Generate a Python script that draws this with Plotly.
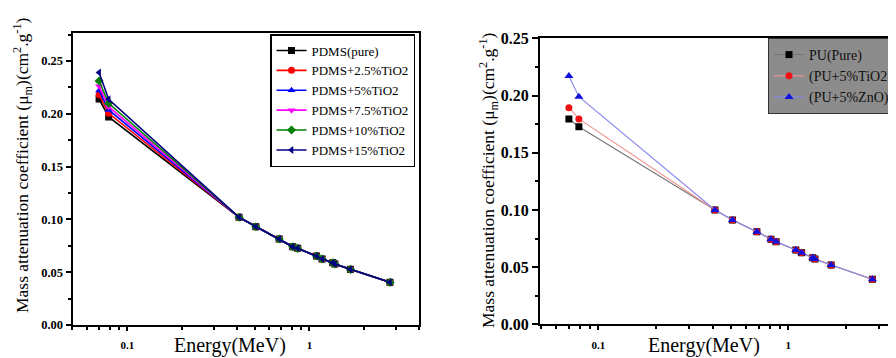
import plotly.graph_objects as go

# ---------------- data ----------------
energy = [0.07, 0.079, 0.411, 0.508, 0.683, 0.81, 0.862, 1.095, 1.175, 1.343, 1.38, 1.68, 2.77]

# Left panel (PDMS composites)
pdms_names = ["PDMS(pure)", "PDMS+2.5%TiO2", "PDMS+5%TiO2", "PDMS+7.5%TiO2", "PDMS+10%TiO2", "PDMS+15%TiO2"]
pdms_pure = [0.214, 0.197, 0.102, 0.0931, 0.0814, 0.0741, 0.0726, 0.0653, 0.0625, 0.059, 0.0578, 0.0527, 0.0404]
pdms_2_5 = [0.218, 0.2005, 0.102, 0.0931, 0.0814, 0.0741, 0.0726, 0.0653, 0.0625, 0.059, 0.0578, 0.0527, 0.0404]
pdms_5 = [0.222, 0.2036, 0.102, 0.0931, 0.0814, 0.0741, 0.0726, 0.0653, 0.0625, 0.059, 0.0578, 0.0527, 0.0404]
pdms_7_5 = [0.226, 0.2067, 0.102, 0.0931, 0.0814, 0.0741, 0.0726, 0.0653, 0.0625, 0.059, 0.0578, 0.0527, 0.0404]
pdms_10 = [0.231, 0.210, 0.102, 0.0931, 0.0814, 0.0741, 0.0726, 0.0653, 0.0625, 0.059, 0.0578, 0.0527, 0.0404]
pdms_15 = [0.239, 0.2137, 0.102, 0.0931, 0.0814, 0.0741, 0.0726, 0.0653, 0.0625, 0.059, 0.0578, 0.0527, 0.0404]

# Right panel (PU composites)
pu_names = ["PU(Pure)", "(PU+5%TiO2", "(PU+5%ZnO)"]
pu_pure = [0.1795, 0.1727, 0.0999, 0.0912, 0.0809, 0.0743, 0.0722, 0.0649, 0.0626, 0.0582, 0.0571, 0.0518, 0.0393]
pu_tio2 = [0.1893, 0.1795, 0.0999, 0.0912, 0.0809, 0.0743, 0.0722, 0.0649, 0.0626, 0.0582, 0.0571, 0.0518, 0.0393]
pu_zno = [0.217, 0.199, 0.0999, 0.0912, 0.0809, 0.0743, 0.0722, 0.0649, 0.0626, 0.0582, 0.0571, 0.0518, 0.0393]

x_tickvals = [0.1, 1]
x_ticktext = ["0.1", "1"]
x_minor_vals = [0.05, 0.06, 0.07, 0.08, 0.09, 0.2, 0.3, 0.4, 0.5, 0.6, 0.7, 0.8, 0.9, 2, 3, 4]
y_tickvals = [0.00, 0.05, 0.10, 0.15, 0.20, 0.25]
y_ticktext = ["0.00", "0.05", "0.10", "0.15", "0.20", "0.25"]

y_title = "Mass attenuation coefficient (\u03bc<sub>m</sub>)(cm<sup>2</sup>.g<sup>-1</sup>)"
x_title = "Energy(MeV)"

# ---------------- styles ----------------
FONT = "'Liberation Serif', 'Times New Roman', Times, serif"
W, H = 896, 358
OFF = 8  # page body margin offset of the rendered figure

left_series = [pdms_pure, pdms_2_5, pdms_5, pdms_7_5, pdms_10, pdms_15]
left_colors = ["#000000", "#ff0000", "#0000ff", "#ff00ff", "#008000", "#000080"]
left_symbols = ["square", "circle", "triangle-up", "triangle-down", "diamond", "triangle-left"]

right_series = [pu_pure, pu_tio2, pu_zno]
right_marker_colors = ["#000000", "#ee1111", "#1111dd"]
right_line_colors = ["#777777", "#f09090", "#8888ee"]
right_symbols = ["square", "circle", "triangle-up"]

fig = go.Figure()

for name, ys, c, s in zip(pdms_names, left_series, left_colors, left_symbols):
    fig.add_trace(go.Scatter(
        x=energy, y=ys, name=name, mode="lines+markers",
        line=dict(color=c, width=1.6),
        marker=dict(color=c, symbol=s, size=7),
        xaxis="x", yaxis="y", legend="legend",
    ))

for name, ys, mc, lc, s in zip(pu_names, right_series, right_marker_colors, right_line_colors, right_symbols):
    fig.add_trace(go.Scatter(
        x=energy, y=ys, name=name, mode="lines+markers",
        line=dict(color=lc, width=1.1),
        marker=dict(color=mc, symbol=s, size=8 if s == "triangle-up" else 7),
        xaxis="x2", yaxis="y2", legend="legend2",
    ))

def px_x(p):
    return (p - OFF) / W

def px_y(p):
    return 1 - (p - OFF) / H

axis_common = dict(
    showline=True, linecolor="black", linewidth=2,
    ticks="outside", tickcolor="black", tickwidth=1.5,
    showgrid=False, zeroline=False,
)

fig.update_layout(
    width=W, height=H,
    margin=dict(l=0, r=0, t=0, b=0),
    paper_bgcolor="white", plot_bgcolor="white",
    template="none",
    font=dict(family=FONT, color="black"),
    xaxis=dict(
        **axis_common, type="log", mirror=True,
        domain=[px_x(72.5), px_x(419)],
        range=[-1.301, 0.602],
        tickmode="array", tickvals=x_tickvals, ticktext=x_ticktext,
        ticklen=4, ticklabelstandoff=5,
        tickfont=dict(size=11, weight="bold", family=FONT),
        minor=dict(tickmode="array", tickvals=x_minor_vals, ticks="outside", ticklen=3, tickcolor="black"),
        anchor="y",
    ),
    yaxis=dict(
        **axis_common, mirror=True,
        domain=[px_y(325), px_y(33)],
        range=[0, 0.2765],
        tickmode="array", tickvals=y_tickvals, ticktext=y_ticktext,
        ticklen=5,
        tickfont=dict(size=12.5, weight="bold", family=FONT),
        minor=dict(dtick=0.025, ticks="outside", ticklen=3, tickcolor="black"),
        anchor="x",
    ),
    xaxis2=dict(
        **axis_common, type="log", mirror=True,
        domain=[px_x(540), 1.0],
        range=[-1.307, -1.307 + (896 + OFF - 540) / 190],
        tickmode="array", tickvals=x_tickvals, ticktext=x_ticktext,
        ticklen=4, ticklabelstandoff=5,
        tickfont=dict(size=11, weight="bold", family=FONT),
        minor=dict(tickmode="array", tickvals=x_minor_vals, ticks="outside", ticklen=3, tickcolor="black"),
        anchor="y2",
    ),
    yaxis2=dict(
        **axis_common, mirror=False,
        domain=[px_y(324.3), px_y(38.3)],
        range=[0, 0.25],
        tickmode="array", tickvals=y_tickvals, ticktext=y_ticktext,
        ticklen=6,
        tickfont=dict(size=16, weight="bold", family=FONT),
        minor=dict(dtick=0.025, ticks="outside", ticklen=3, tickcolor="black"),
        anchor="x2",
    ),
    legend=dict(
        x=px_x(270), y=px_y(34), xanchor="left", yanchor="top",
        bgcolor="white", bordercolor="black", borderwidth=1.5,
        font=dict(family=FONT, size=13, color="black"),
        tracegroupgap=0,
    ),
    legend2=dict(
        x=px_x(768), y=px_y(38), xanchor="left", yanchor="top",
        bgcolor="#8c8c8c", bordercolor="#333333", borderwidth=1,
        font=dict(family=FONT, size=14, color="#111111"),
        tracegroupgap=0,
    ),
    showlegend=True,
)

annotations = [
    dict(text=y_title, x=px_x(22), y=px_y(165), xref="paper", yref="paper",
         textangle=-90, showarrow=False, font=dict(family=FONT, size=17.5, color="black"),
         xanchor="center", yanchor="middle"),
    dict(text=y_title, x=px_x(488), y=px_y(180), xref="paper", yref="paper",
         textangle=-90, showarrow=False, font=dict(family=FONT, size=17.5, color="black"),
         xanchor="center", yanchor="middle"),
    dict(text=x_title, x=px_x(230), y=px_y(345), xref="paper", yref="paper",
         showarrow=False, font=dict(family=FONT, size=20, color="black"),
         xanchor="center", yanchor="middle"),
    dict(text=x_title, x=px_x(704), y=px_y(345), xref="paper", yref="paper",
         showarrow=False, font=dict(family=FONT, size=20, color="black"),
         xanchor="center", yanchor="middle"),
]
fig.update_layout(annotations=annotations)

fig.write_html("out.html")
